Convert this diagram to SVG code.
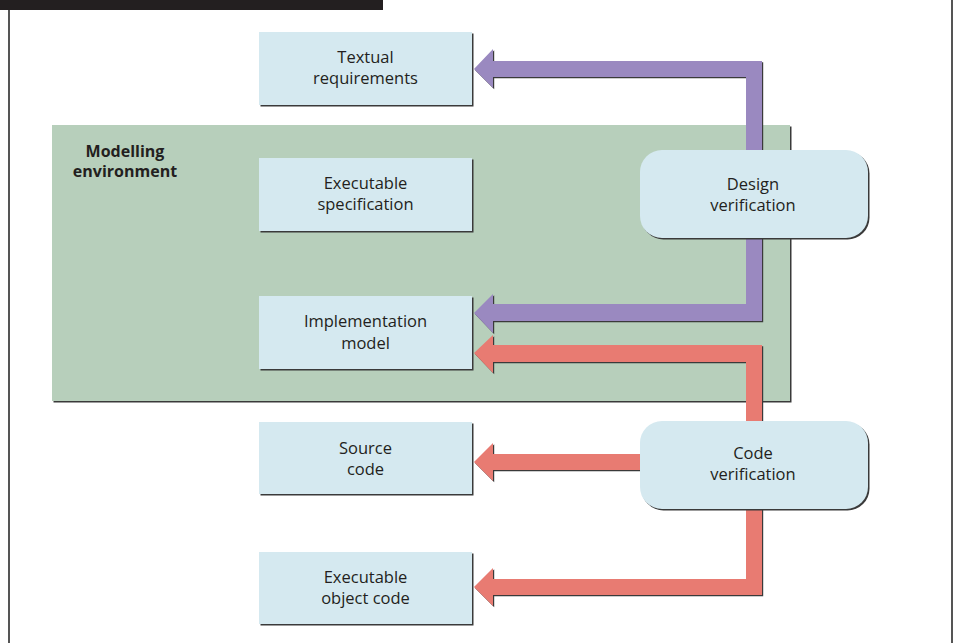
<svg xmlns="http://www.w3.org/2000/svg" width="957" height="643" viewBox="0 0 957 643">
<style>
.box{fill:#d5e9f0}
.sh{fill:#3a3a3a}
.t{font-family:"Open Sans","Liberation Sans",sans-serif;font-size:16.5px;font-weight:500;fill:#231f20;text-anchor:middle}
.b{font-weight:bold;font-size:16px}
.purple{fill:#9a89c0}
.red{fill:#e87b72}
.ash{fill:#3a3a3a}
.frame{stroke:#555;stroke-width:2;fill:none}
</style>
<rect width="957" height="643" fill="#fff"/>
<rect x="0" y="0" width="383" height="10" fill="#231f20"/>
<line class="frame" x1="9" y1="10" x2="9" y2="643"/>
<line class="frame" x1="952" y1="0" x2="952" y2="643"/>

<g id="modelling-environment">
<rect x="53.5" y="126.5" width="738" height="276" class="sh"/>
<rect x="52" y="125" width="738" height="276" fill="#b7cfbb"/>
<text class="t b" x="125" y="157">Modelling</text>
<text class="t b" x="125" y="177">environment</text>
</g>

<g id="connectors">
<g transform="translate(1.2,1.2)" class="ash">
<polygon points="474,69 493,49 493,61 762,61 762,321 493,321 493,333 474,313 493,294 493,304 746,304 746,77 493,77 493,88"/>
<polygon points="474,353 493,335 493,345 762,345 762,430 746,430 746,362 493,362 493,373"/>
<polygon points="474,462 493,443 493,454 645,454 645,470 493,470 493,481"/>
<polygon points="746,500 762,500 762,595 493,595 493,606 474,587 493,568 493,579 746,579"/>
</g>
<polygon class="purple" points="474,69 493,49 493,61 762,61 762,321 493,321 493,333 474,313 493,294 493,304 746,304 746,77 493,77 493,88"/>
<polygon class="red" points="474,353 493,335 493,345 762,345 762,430 746,430 746,362 493,362 493,373"/>
<polygon class="red" points="474,462 493,443 493,454 645,454 645,470 493,470 493,481"/>
<polygon class="red" points="746,500 762,500 762,595 493,595 493,606 474,587 493,568 493,579 746,579"/>
</g>

<g id="textual-requirements">
<rect x="260.5" y="33.5" width="213" height="73" class="sh"/>
<rect x="259" y="32" width="213" height="73" class="box"/>
<text class="t" x="365.5" y="63">Textual</text>
<text class="t" x="365.5" y="84">requirements</text>
</g>

<g id="executable-specification">
<rect x="260.5" y="159.5" width="213" height="73" class="sh"/>
<rect x="259" y="158" width="213" height="73" class="box"/>
<text class="t" x="365.5" y="189">Executable</text>
<text class="t" x="365.5" y="210">specification</text>
</g>

<g id="implementation-model">
<rect x="260.5" y="297.5" width="213" height="73" class="sh"/>
<rect x="259" y="296" width="213" height="73" class="box"/>
<text class="t" x="365.5" y="327">Implementation</text>
<text class="t" x="365.5" y="349">model</text>
</g>

<g id="source-code">
<rect x="260.5" y="423.5" width="213" height="72" class="sh"/>
<rect x="259" y="422" width="213" height="72" class="box"/>
<text class="t" x="365.5" y="454">Source</text>
<text class="t" x="365.5" y="475">code</text>
</g>

<g id="executable-object-code">
<rect x="260.5" y="553.5" width="213" height="72" class="sh"/>
<rect x="259" y="552" width="213" height="72" class="box"/>
<text class="t" x="365.5" y="583">Executable</text>
<text class="t" x="365.5" y="604">object code</text>
</g>

<g id="design-verification">
<rect x="641.5" y="151.5" width="228" height="88" rx="22" class="sh"/>
<rect x="640" y="150" width="228" height="88" rx="22" class="box"/>
<text class="t" x="753" y="190">Design</text>
<text class="t" x="753" y="211">verification</text>
</g>

<g id="code-verification">
<rect x="641.5" y="422.5" width="228" height="88" rx="22" class="sh"/>
<rect x="640" y="421" width="228" height="88" rx="22" class="box"/>
<text class="t" x="753" y="459">Code</text>
<text class="t" x="753" y="480">verification</text>
</g>
</svg>
